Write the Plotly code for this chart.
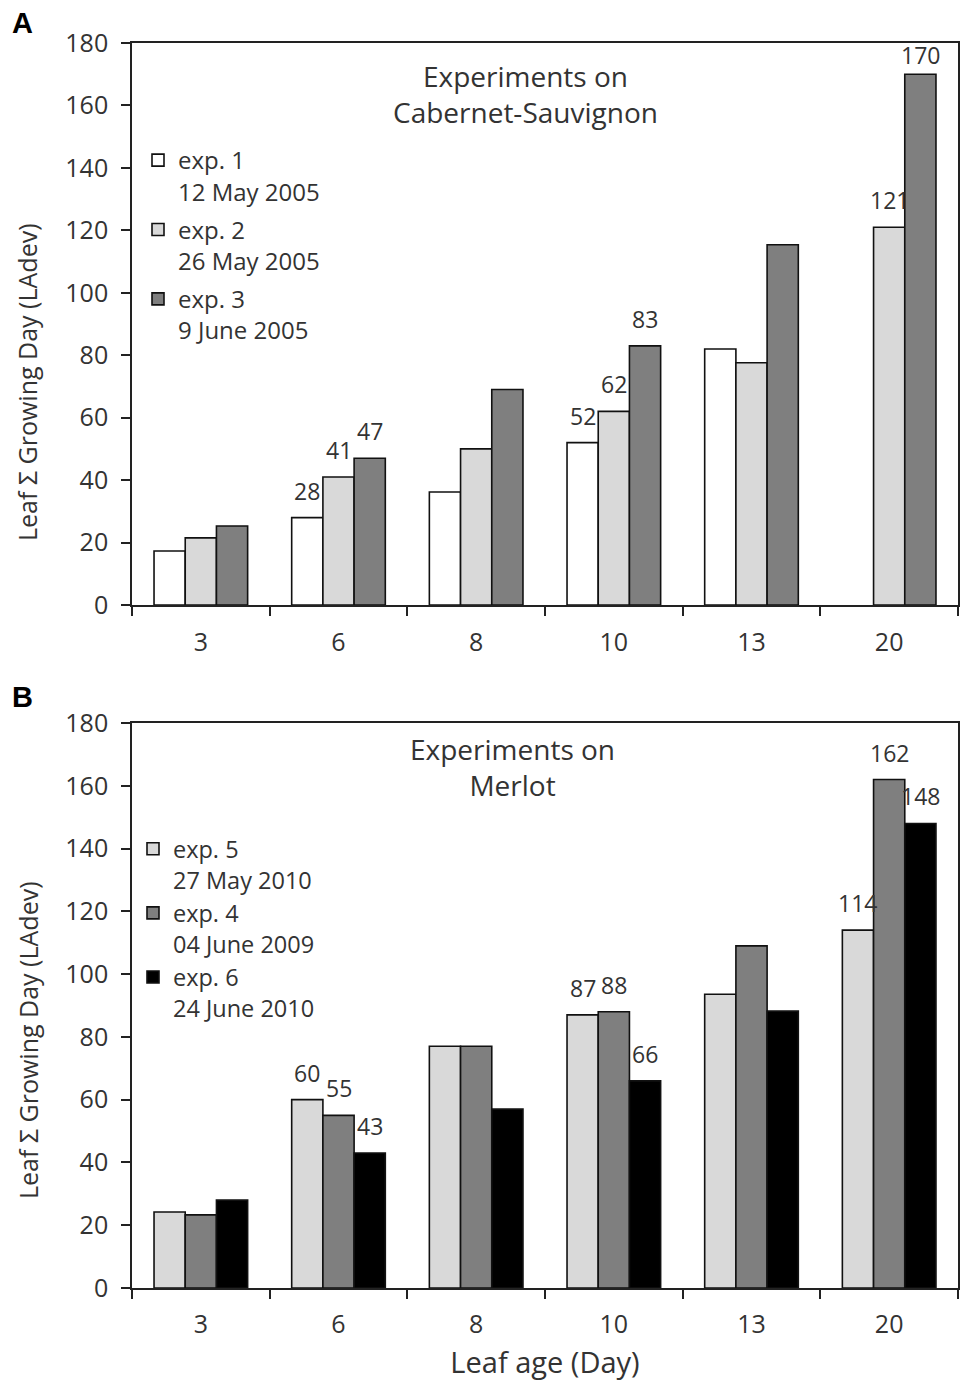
import plotly.graph_objects as go

# ---------------- data ----------------
days = ["3", "6", "8", "10", "13", "20"]

# Panel A - Cabernet-Sauvignon
a_exp1 = [17.3, 28, 36.2, 52, 82, None]
a_exp2 = [21.5, 41, 50, 62, 77.6, 121]
a_exp3 = [25.3, 47, 69, 83, 115.4, 170]
a_names = ["exp. 1<br>12 May 2005", "exp. 2<br>26 May 2005", "exp. 3<br>9 June 2005"]
a_label_days = [["6", "10"], ["6", "10", "20"], ["6", "10", "20"]]

# Panel B - Merlot
b_exp5 = [24.2, 60, 77, 87, 93.6, 114]
b_exp4 = [23.3, 55, 77, 88, 109, 162]
b_exp6 = [28, 43, 57, 66, 88.2, 148]
b_names = ["exp. 5<br>27 May 2010", "exp. 4<br>04 June 2009", "exp. 6<br>24 June 2010"]
b_label_days = [["6", "10", "20"], ["6", "10", "20"], ["6", "10", "20"]]

y_ticks = [0, 20, 40, 60, 80, 100, 120, 140, 160, 180]

# ---------------- layout helpers ----------------
OFF = 8                      # page body margin
W, H = 980 - OFF, 1392 - OFF
ML, MT = 132 - OFF, 43 - OFF
MR = W - (958 - OFF)
MB = H - (1288 - OFF)
PW, PH = W - ML - MR, H - MT - MB
BARGAP = 0.32
BARW = PW / len(days) * (1 - BARGAP) / 3
YMAX = 180


def px_y(p):
    return (H - MB - (p - OFF)) / PH


def px_x(p):
    return ((p - OFF) - ML) / PW


FONT = "Open Sans"
TXT = "#333333"

fig = go.Figure()
annotations = []


def add_labels(vals, days_to_label, slot, xref, yref):
    for idx, (v, d) in enumerate(zip(vals, days)):
        if v is not None and d in days_to_label:
            annotations.append(dict(
                x=idx, y=v, xref=xref, yref=yref, text=f"{v:.0f}", showarrow=False,
                xanchor="center", yanchor="bottom", xshift=(slot - 1) * BARW,
                yshift=9 if v < YMAX - 15 else 1,
                font=dict(family=FONT, size=23, color=TXT)))


a_colors = ["#ffffff", "#d9d9d9", "#7f7f7f"]
for i, (vals, name, col, ld) in enumerate(zip([a_exp1, a_exp2, a_exp3], a_names, a_colors, a_label_days)):
    fig.add_trace(go.Bar(
        x=days, y=vals, name=name, marker=dict(color=col, line=dict(color="#111111", width=1.6)),
        xaxis="x", yaxis="y", legend="legend", legendgroup=f"a{i}",
    ))
    add_labels(vals, ld, i, "x", "y")

b_colors = ["#d9d9d9", "#7f7f7f", "#000000"]
for i, (vals, name, col, ld) in enumerate(zip([b_exp5, b_exp4, b_exp6], b_names, b_colors, b_label_days)):
    fig.add_trace(go.Bar(
        x=days, y=vals, name=name, marker=dict(color=col, line=dict(color="#111111", width=1.6)),
        xaxis="x2", yaxis="y2", legend="legend2", legendgroup=f"b{i}",
    ))
    add_labels(vals, ld, i, "x2", "y2")

axis_common = dict(
    showline=True, linecolor="#222222", linewidth=1.6, mirror=True,
    showgrid=False, zeroline=False, ticks="outside", ticklen=9, tickwidth=1.6,
    tickcolor="#222222", tickfont=dict(family=FONT, size=25, color=TXT),
)
xcat = dict(type="category", categoryorder="array", categoryarray=days,
            range=[-0.5, len(days) - 0.5], tickson="boundaries", tickangle=0)

annotations += [
    dict(text="Experiments on<br>Cabernet-Sauvignon", xref="paper", yref="paper",
         x=px_x(525), y=px_y(94), xanchor="center", yanchor="middle", showarrow=False,
         font=dict(family=FONT, size=28, color=TXT)),
    dict(text="Experiments on<br>Merlot", xref="paper", yref="paper",
         x=px_x(512), y=px_y(767), xanchor="center", yanchor="middle", showarrow=False,
         font=dict(family=FONT, size=28, color=TXT)),
    dict(text="Leaf \u03a3 Growing Day (LAdev)", xref="paper", yref="paper",
         x=px_x(27), y=px_y(382), xanchor="center", yanchor="middle", textangle=-90,
         showarrow=False, font=dict(family=FONT, size=25, color=TXT)),
    dict(text="Leaf \u03a3 Growing Day (LAdev)", xref="paper", yref="paper",
         x=px_x(28), y=px_y(1040), xanchor="center", yanchor="middle", textangle=-90,
         showarrow=False, font=dict(family=FONT, size=25, color=TXT)),
    dict(text="<b>A</b>", xref="paper", yref="paper", x=px_x(10), y=px_y(23),
         xanchor="left", yanchor="middle", showarrow=False,
         font=dict(family="Liberation Sans", size=29, color="#000000")),
    dict(text="<b>B</b>", xref="paper", yref="paper", x=px_x(10), y=px_y(697),
         xanchor="left", yanchor="middle", showarrow=False,
         font=dict(family="Liberation Sans", size=29, color="#000000")),
]

fig.update_layout(
    width=W, height=H,
    margin=dict(l=ML, r=MR, t=MT, b=MB),
    paper_bgcolor="white", plot_bgcolor="white",
    barmode="group", bargap=BARGAP, bargroupgap=0,
    font=dict(family=FONT, color=TXT),
    xaxis=dict(domain=[0, 1], anchor="y", ticklabelstandoff=14, **xcat, **axis_common),
    yaxis=dict(domain=[px_y(605), px_y(43)], anchor="x", range=[0, YMAX], tickvals=y_ticks,
               ticklabelstandoff=8, **axis_common),
    xaxis2=dict(domain=[0, 1], anchor="y2", ticklabelstandoff=13,
                title=dict(text="Leaf age (Day)", font=dict(family=FONT, size=29, color=TXT), standoff=14),
                **xcat, **axis_common),
    yaxis2=dict(domain=[px_y(1288), px_y(723)], anchor="x2", range=[0, YMAX], tickvals=y_ticks,
                ticklabelstandoff=8, **axis_common),
    legend=dict(x=px_x(138), y=px_y(138), xanchor="left", yanchor="top", valign="top",
                bgcolor="rgba(0,0,0,0)", font=dict(family=FONT, size=24, color=TXT),
                tracegroupgap=4, itemwidth=30),
    legend2=dict(x=px_x(133), y=px_y(827), xanchor="left", yanchor="top", valign="top",
                 bgcolor="rgba(0,0,0,0)", font=dict(family=FONT, size=23.5, color=TXT),
                 tracegroupgap=0, itemwidth=30),
    annotations=annotations,
)

fig.write_html("out.html")
